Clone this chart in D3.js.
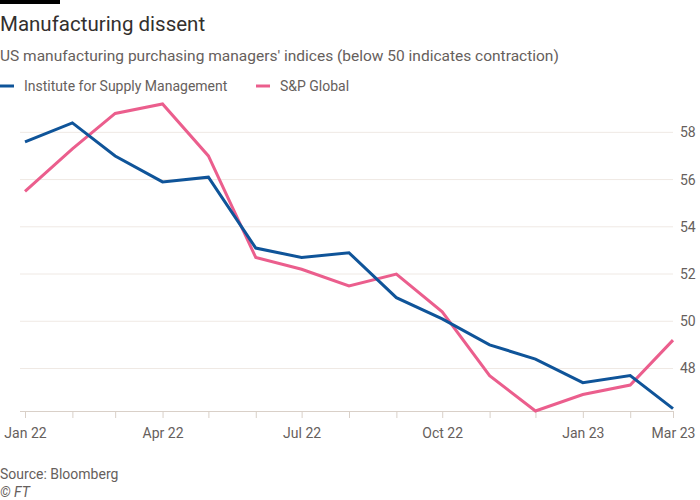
<!DOCTYPE html>
<html><head><meta charset="utf-8">
<script src="https://cdn.jsdelivr.net/npm/d3@7"></script>
<style>
body{margin:0;background:#fff;}
text{font-family:Roboto, "Noto Sans", sans-serif;}
</style></head>
<body>
<svg id="chart" width="700" height="500"></svg>
<script>
const months = ["2022-01","2022-02","2022-03","2022-04","2022-05","2022-06","2022-07","2022-08","2022-09","2022-10","2022-11","2022-12","2023-01","2023-02","2023-03"];
const ismValues = [57.6,58.4,57.0,55.9,56.1,53.1,52.7,52.9,51.0,50.1,49.0,48.4,47.4,47.7,46.3];
const spValues  = [55.5,57.3,58.8,59.2,57.0,52.7,52.2,51.5,52.0,50.4,47.7,46.2,46.9,47.3,49.2];
const yTicks = [48,50,52,54,56,58];
const xTickLabels = [["2022-01","Jan 22"],["2022-04","Apr 22"],["2022-07","Jul 22"],["2022-10","Oct 22"],["2023-01","Jan 23"],["2023-03","Mar 23"]];
const seriesNames = ["Institute for Supply Management","S&P Global"];
const seriesColors = ["#0f5499","#eb5e8d"];

const svg = d3.select("#chart");
const parse = d3.timeParse("%Y-%m");
const dates = months.map(parse);

const x = d3.scaleTime().domain(d3.extent(dates)).range([25,673]);
const y = d3.scaleLinear().domain([46.2,59.2]).range([411,104]);

// header
svg.append("rect").attr("x",0).attr("y",0).attr("width",60).attr("height",4).attr("fill","#000");
svg.append("text").attr("x",0).attr("y",31).attr("font-size",20.5).attr("fill","#33302e").text("Manufacturing dissent");
svg.append("text").attr("x",0).attr("y",61).attr("font-size",15.5).attr("fill","#66605c").text("US manufacturing purchasing managers' indices (below 50 indicates contraction)");

// legend
const legX = [0,256];
seriesNames.forEach((n,i)=>{
  svg.append("line").attr("x1",legX[i]).attr("x2",legX[i]+14).attr("y1",86).attr("y2",86)
    .attr("stroke",seriesColors[i]).attr("stroke-width",3);
  svg.append("text").attr("x",legX[i]+24).attr("y",91).attr("font-size",14).attr("fill","#66605c").text(n);
});

// gridlines + y labels
const g = svg.append("g");
g.selectAll("line.grid").data(yTicks).join("line").attr("class","grid")
  .attr("x1",20).attr("x2",673).attr("y1",d=>y(d)).attr("y2",d=>y(d))
  .attr("stroke","#efe9e4").attr("stroke-width",1);
g.selectAll("text.yl").data(yTicks).join("text").attr("class","yl")
  .attr("x",680).attr("y",d=>y(d)+5).attr("font-size",14).attr("fill","#66605c").text(d=>d);

// x axis
const xAxis = d3.axisBottom(x).tickValues(dates).tickSize(7).tickFormat(d=>{
  const f = d3.timeFormat("%Y-%m")(d);
  const m = xTickLabels.find(t=>t[0]===f);
  return m ? m[1] : "";
});
const ax = svg.append("g").attr("transform","translate(0,411)").call(xAxis);
ax.select(".domain").attr("d","M20,0.5H673").attr("stroke","#d9d0c8");
ax.selectAll(".tick line").attr("stroke","#d9d0c8");
ax.selectAll(".tick text").attr("font-size",14).attr("fill","#66605c").attr("dy","1.2em")
  .attr("font-family","Roboto, 'Noto Sans', sans-serif");

// lines
const line = d3.line().x((d,i)=>x(dates[i])).y(d=>y(d));
[spValues, ismValues].forEach((vals,k)=>{
  const color = k===0 ? seriesColors[1] : seriesColors[0];
  svg.append("path").datum(vals).attr("d",line).attr("fill","none")
    .attr("stroke",color).attr("stroke-width",3).attr("stroke-linejoin","miter");
});

// footer
svg.append("text").attr("x",0).attr("y",479).attr("font-size",14).attr("fill","#66605c").text("Source: Bloomberg");
svg.append("text").attr("x",0).attr("y",497).attr("font-size",14).attr("font-style","italic").attr("fill","#66605c").text("© FT");
</script>
</body></html>
